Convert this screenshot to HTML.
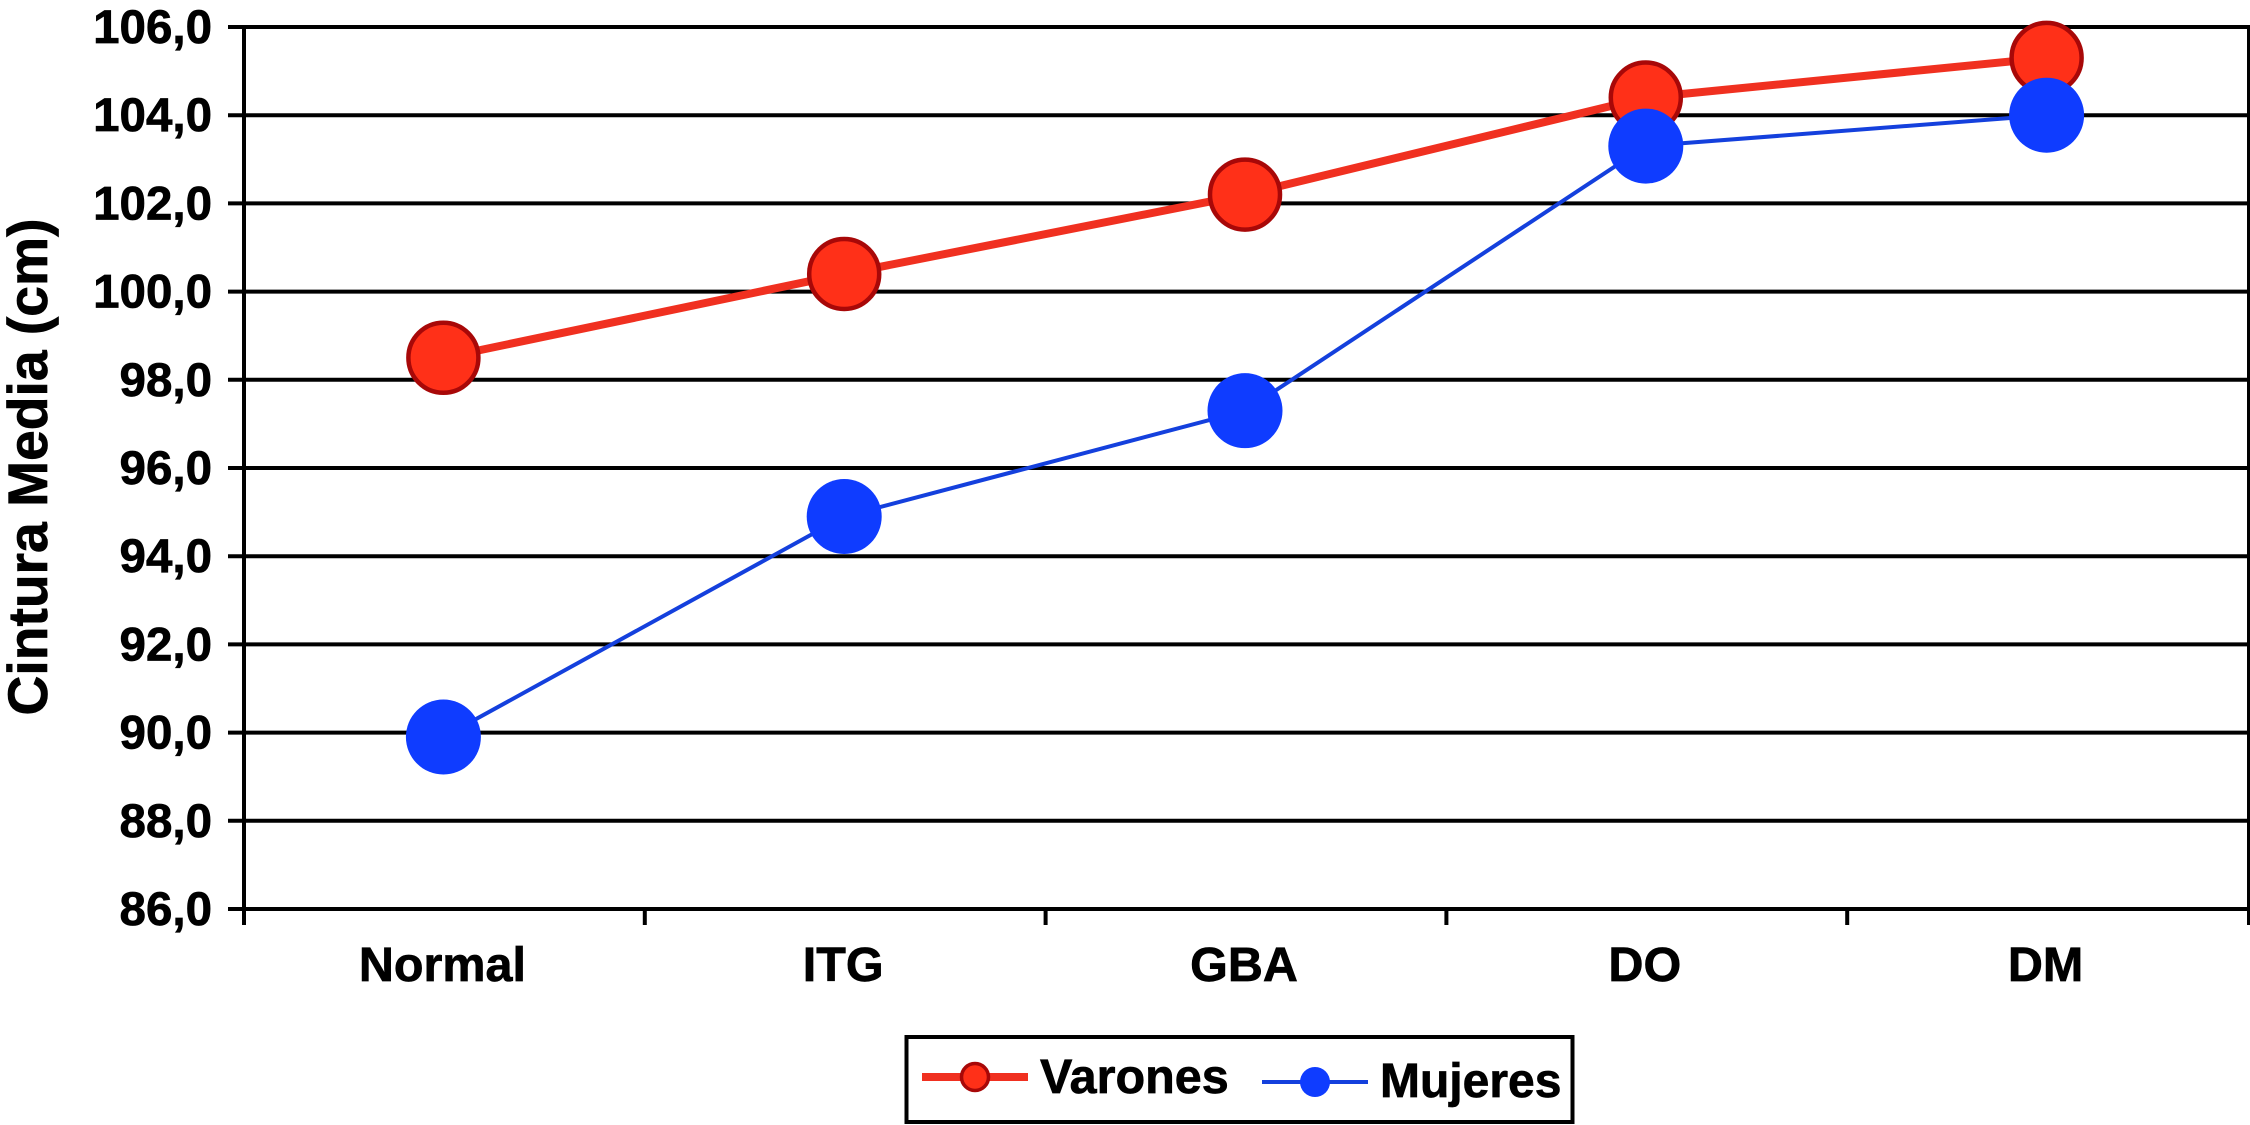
<!DOCTYPE html>
<html lang="es">
<head>
<meta charset="utf-8">
<title>Cintura Media</title>
<style>
html,body{margin:0;padding:0;background:#fff;}
#chart{display:block;width:2250px;height:1125px;font-family:"Liberation Sans",Arial,sans-serif;font-weight:bold;fill:#000;}
#chart text{stroke:#000;stroke-width:0.7px;}
</style>
</head>
<body>
<svg id="chart" xmlns="http://www.w3.org/2000/svg" width="2250" height="1125" viewBox="0 0 2250 1125">
  <rect x="0" y="0" width="2250" height="1125" fill="#fff"/>
  <g id="grid"></g>
  <g id="axes"></g>
  <g id="marks"></g>
  <text x="47" y="467" font-size="56" text-anchor="middle" transform="rotate(-90 47 467)" textLength="497" lengthAdjust="spacingAndGlyphs">Cintura Media (cm)</text>
  <g>
    <rect x="906.5" y="1037" width="666" height="85" fill="#fff" stroke="#000" stroke-width="4"/>
    <g>
      <line x1="922" y1="1077" x2="1028" y2="1077" stroke="#F03020" stroke-width="8"/>
      <circle cx="975" cy="1077" r="13.5" fill="#FF3018" stroke="#A80808" stroke-width="3.5"/>
      <text x="1040" y="1093" font-size="48.5">Varones</text>
    </g>
    <g>
      <line x1="1262" y1="1082" x2="1368" y2="1082" stroke="#1440DD" stroke-width="4"/>
      <circle cx="1315" cy="1082" r="15" fill="#0F3CFF"/>
      <text x="1380" y="1097" font-size="48">Mujeres</text>
    </g>
  </g>
</svg>
<script>
const categories = ['Normal', 'ITG', 'GBA', 'DO', 'DM'];
const varones = [98.5, 100.4, 102.2, 104.4, 105.3];
const mujeres = [89.9, 94.9, 97.3, 103.3, 104.0];
const yTicks = [86, 88, 90, 92, 94, 96, 98, 100, 102, 104, 106];
const yTickLabels = ['86,0', '88,0', '90,0', '92,0', '94,0', '96,0', '98,0', '100,0', '102,0', '104,0', '106,0'];

const NS = 'http://www.w3.org/2000/svg';
const plotLeft = 244, plotRight = 2248, plotTop = 27, plotBottom = 909;
const yMin = 86, yMax = 106;

function yScale(v) {
  return plotBottom - (v - yMin) / (yMax - yMin) * (plotBottom - plotTop);
}
function xEdge(i) {
  return plotLeft + i * (plotRight - plotLeft) / categories.length;
}
function xScale(i) {
  return xEdge(i + 0.5) - 1;
}
function make(tag, parent, attrs) {
  const el = document.createElementNS(NS, tag);
  Object.keys(attrs).forEach(function (k) { el.setAttribute(k, attrs[k]); });
  parent.appendChild(el);
  return el;
}

const grid = document.getElementById('grid');
const axes = document.getElementById('axes');
const marks = document.getElementById('marks');

yTicks.forEach(function (t, i) {
  const y = yScale(t);
  const line = make('line', grid, { x1: 228, y1: y, x2: plotRight + 2, y2: y, stroke: '#000', 'stroke-width': 4 });
  
  
  const label = make('text', axes, { x: 212, y: y + 16, 'font-size': 47.5, 'text-anchor': 'end' });
  
  
  label.textContent = yTickLabels[i];
});

const yAxis = make('line', axes, { x1: plotLeft, y1: plotTop, x2: plotLeft, y2: 925, stroke: '#000', 'stroke-width': 4 });



const rightEdge = make('line', axes, { x1: 2248.5, y1: plotTop - 2, x2: 2248.5, y2: 925, stroke: '#000', 'stroke-width': 3 });



for (let i = 1; i < categories.length; i++) {
  const tick = make('line', axes, { x1: xEdge(i), y1: plotBottom, x2: xEdge(i), y2: 925, stroke: '#000', 'stroke-width': 4 });
  
  
}

categories.forEach(function (c, i) {
  const label = make('text', axes, { x: xScale(i) - 1, y: 981, 'font-size': 48.5, 'text-anchor': 'middle' });
  
  
  label.textContent = c;
});

function drawSeries(values, key, lineColor, lineWidth, fill, stroke, strokeWidth, radius) {
  const pts = values.map(function (v, i) { return xScale(i) + ',' + yScale(v); }).join(' ');
  const line = make('polyline', marks, { points: pts, fill: 'none', stroke: lineColor, 'stroke-width': lineWidth });
  
  
  values.forEach(function (v, i) {
    const dot = make('circle', marks, { cx: xScale(i), cy: yScale(v), r: radius, fill: fill, stroke: stroke, 'stroke-width': strokeWidth });
    
    
  });
}

drawSeries(varones, 'varones', '#F03020', 8, '#FF3018', '#A80808', 4.5, 35);
drawSeries(mujeres, 'mujeres', '#1440DD', 4, '#0F3CFF', 'none', 0, 37.5);
</script>
</body>
</html>
